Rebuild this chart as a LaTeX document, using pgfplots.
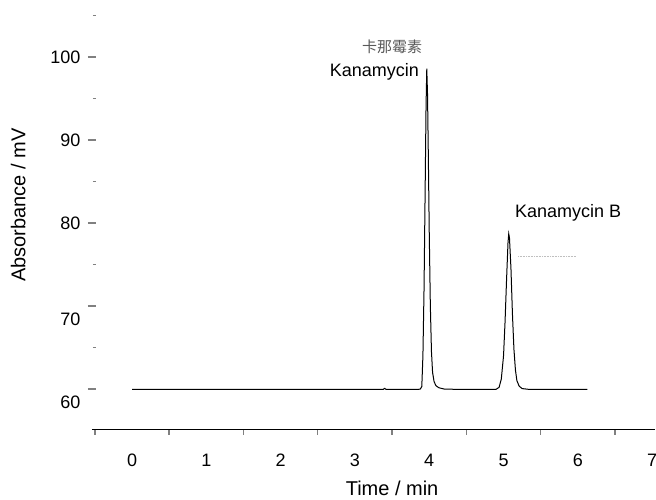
\documentclass[border=0pt]{standalone}
\usepackage{pgfplots}
\pgfplotsset{compat=1.18}
\usepackage{fontspec}
\setmainfont{Liberation Sans}
\newfontfamily\cjk{Noto Sans CJK SC}
\begin{document}
\begin{tikzpicture}
\begin{axis}[
  scale only axis,
  width=563.2bp, height=429.1bp,
  xmin=-0.54, xmax=7.04,
  ymin=55.1, ymax=106.8,
  axis x line*=bottom,
  axis y line*=left,
  y axis line style={draw=none},
  x axis line style={line width=1.3bp},
  tick align=outside,
  major tick length=8bp,
  minor tick length=3bp,
  xtick=\empty,
  extra x ticks={-0.5,0.5,1.5,2.5,3.5,4.5,5.5,6.5},
  extra x tick labels={0,1,2,3,4,5,6,7},
  extra x tick style={major tick length=5bp, xticklabel style={anchor=base, xshift=37.15bp, yshift=-32bp}},
  ytick={80,90,100},
  extra y ticks={60,70},
  extra y tick labels={60,70},
  extra y tick style={yticklabel style={yshift=-13bp}},
  minor ytick={65,75,85,95,105},
  ytick style={xshift=4bp, line width=1.4bp},
  xtick style={line width=1.4bp},
  /pgf/number format/assume math mode=true,
  tick label style={font=\fontsize{18bp}{21bp}\selectfont},
  clip=false,
]
\addplot[black, line width=1bp] coordinates {
(0.00,59.95) (0.5,59.95) (1.0,59.95) (1.5,59.95) (2.0,59.95) (2.5,59.95) (3.0,59.95)
(3.38,59.95) (3.40,60.08) (3.42,59.95) (3.7,59.95)
(3.85,59.95) (3.88,60.0) (3.90,60.3) (3.915,64) (3.93,72) (3.945,84) (3.957,94) (3.967,98.6)
(3.977,95.5) (3.988,88) (4.00,79) (4.015,70) (4.03,64.5) (4.045,62) (4.065,60.9) (4.09,60.4) (4.13,60.15) (4.2,60.0) (4.4,59.95)
(4.8,59.95) (4.90,59.97) (4.94,60.2) (4.97,61.2) (5.00,64) (5.02,68) (5.04,73) (5.06,77.6) (5.07,78.7)
(5.08,78.2) (5.10,74.5) (5.12,69) (5.14,64.8) (5.16,62.3) (5.18,61.0) (5.21,60.35) (5.25,60.05) (5.35,59.95)
(5.8,59.95) (6.13,59.95)
};
\addplot[gray!50, densely dotted, line width=0.6bp] coordinates {(5.195,75.94) (5.989,75.94)};
\node[anchor=center, text=black!65, font=\cjk\fontsize{15bp}{17bp}\selectfont] at (axis cs:3.50,101.2) {卡那霉素};
\node[anchor=east, inner sep=0pt, font=\fontsize{18bp}{21bp}\selectfont] at (axis cs:3.863,98.19) {Kanamycin};
\node[anchor=center, inner sep=0pt, font=\fontsize{18bp}{21bp}\selectfont] at (axis cs:5.868,81.2) {Kanamycin B};
\node[anchor=center, inner sep=0pt, font=\fontsize{20bp}{23bp}\selectfont] at (axis cs:3.5,48.07) {Time / min};
\node[anchor=center, inner sep=0pt, rotate=90, font=\fontsize{20bp}{23bp}\selectfont] at (axis cs:-1.53,82.17) {Absorbance / mV};
\coordinate (bl) at (axis cs:-1.777,46.63);
\coordinate (tr) at (axis cs:7.052,106.87);
\end{axis}
\pgfresetboundingbox
\path (bl) rectangle (tr);
\end{tikzpicture}
\end{document}
